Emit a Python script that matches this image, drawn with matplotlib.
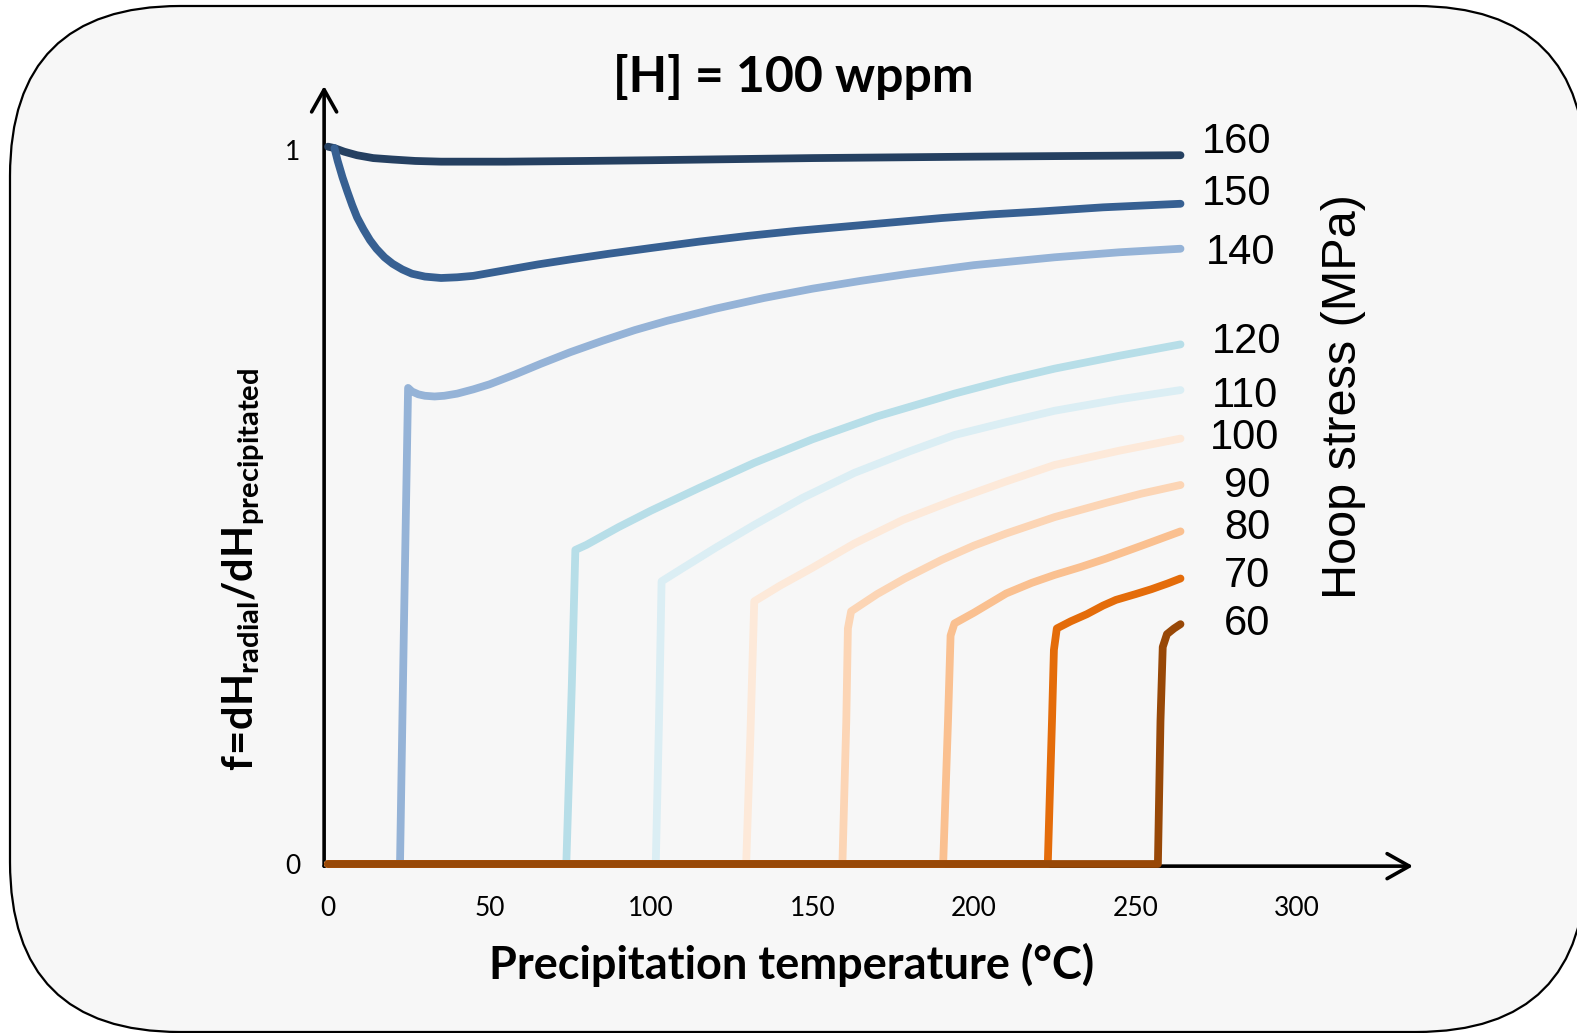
import numpy as np
import matplotlib
matplotlib.use("Agg")
import matplotlib.pyplot as plt
from matplotlib.patches import FancyBboxPatch
from matplotlib.transforms import IdentityTransform

# --- DATA ---
stress_labels = ["160", "150", "140", "120", "110", "100", "90", "80", "70", "60"]
colors = ["#254061", "#376092", "#95B3D7", "#B7DEE8", "#DBEEF4",
          "#FDE9D9", "#FCD5B5", "#FAC090", "#E46C0A", "#984807"]

x160 = [0, 2, 5, 9, 14, 20, 27, 35, 45, 55, 80, 100, 150, 200, 264]
y160 = [1.005, 1.003, 0.998, 0.993, 0.989, 0.987, 0.985, 0.984, 0.984, 0.984,
        0.985, 0.986, 0.989, 0.991, 0.993]

x150 = [2, 3, 4.5, 6, 7.5, 9, 11, 13, 15, 17.5, 20, 23, 26, 30, 35, 40, 45, 50,
        55, 65, 75, 87, 100, 115, 130, 145, 160, 175, 190, 205, 220, 240, 264]
y150 = [1.003, 0.985, 0.962, 0.942, 0.923, 0.906, 0.889, 0.874, 0.862, 0.850,
        0.841, 0.833, 0.827, 0.823, 0.821, 0.822, 0.824, 0.828, 0.832, 0.840,
        0.847, 0.855, 0.863, 0.872, 0.880, 0.887, 0.893, 0.899, 0.905, 0.910,
        0.914, 0.920, 0.925]

x140 = [0, 22.3, 23.5, 24.8, 26, 28, 30, 33, 36, 40, 45, 50, 58, 66, 75, 85, 95,
        105, 120, 135, 150, 165, 180, 200, 225, 245, 264]
y140 = [0, 0, 0.33, 0.667, 0.662, 0.658, 0.656, 0.655, 0.656, 0.659, 0.665,
        0.672, 0.686, 0.701, 0.717, 0.733, 0.748, 0.761, 0.778, 0.793, 0.806,
        0.817, 0.827, 0.839, 0.850, 0.857, 0.862]

x120 = [0, 73.8, 75.5, 76.6, 80, 90, 100, 115, 132, 150, 170, 194, 210, 225, 245, 264]
y120 = [0, 0, 0.25, 0.44, 0.447, 0.472, 0.495, 0.527, 0.562, 0.595, 0.627, 0.659,
        0.678, 0.694, 0.712, 0.728]

x110 = [0, 101.5, 102.5, 103.3, 110, 120, 132, 147, 163, 180, 194, 210, 225, 245, 264]
y110 = [0, 0, 0.2, 0.396, 0.415, 0.443, 0.475, 0.513, 0.548, 0.578, 0.601, 0.619,
        0.635, 0.651, 0.664]

x100 = [0, 129.5, 130.8, 132, 140, 150, 163, 178, 194, 210, 225, 245, 264]
y100 = [0, 0, 0.18, 0.368, 0.39, 0.415, 0.449, 0.482, 0.51, 0.536, 0.559, 0.579, 0.596]

x90 = [0, 159.3, 160.5, 161, 162, 170, 178.6, 190, 200, 210, 225, 241, 252, 264]
y90 = [0, 0, 0.2, 0.33, 0.354, 0.378, 0.40, 0.426, 0.446, 0.463, 0.486, 0.506,
       0.519, 0.531]

x80 = [0, 190.5, 192, 192.8, 194, 200, 210, 218, 225, 233, 241, 252, 264]
y80 = [0, 0, 0.2, 0.32, 0.337, 0.352, 0.379, 0.394, 0.405, 0.416, 0.428, 0.446, 0.466]

x70 = [0, 222.9, 224.2, 224.8, 225.7, 230, 235, 240, 244, 250, 255, 260, 264]
y70 = [0, 0, 0.2, 0.3, 0.33, 0.34, 0.35, 0.362, 0.37, 0.378, 0.385, 0.393, 0.40]

x60 = [0, 257, 257.8, 258.5, 259.8, 262, 264]
y60 = [0, 0, 0.2, 0.304, 0.322, 0.33, 0.336]

series_x = [x160, x150, x140, x120, x110, x100, x90, x80, x70, x60]
series_y = [y160, y150, y140, y120, y110, y100, y90, y80, y70, y60]

# label placement (data coords)
label_x = [270.6, 270.6, 271.8, 273.7, 273.7, 273.2, 277.4, 277.4, 277.4, 277.4]
label_y = [1.012, 0.938, 0.856, 0.732, 0.656, 0.597, 0.530, 0.471, 0.404, 0.336]

xticks = [0, 50, 100, 150, 200, 250, 300]
yticks = [0, 1]

plt.rcParams['mathtext.fontset'] = 'custom'
plt.rcParams['mathtext.rm'] = 'Lato'
plt.rcParams['mathtext.bf'] = 'Lato:bold'

W, H = 1577, 1033
fig = plt.figure(figsize=(W / 100, H / 100), dpi=100)
fig.patch.set_facecolor("white")

# rounded panel
box = FancyBboxPatch((10, 1), 1576, 1026,
                     boxstyle="round,pad=0,rounding_size=170",
                     fc="#f7f7f7", ec="black", lw=1.6,
                     transform=IdentityTransform(), zorder=0)
fig.add_artist(box)

ax = fig.add_axes([328 / W, 169 / H, 1085 / W, 778 / H])
ax.set_facecolor("none")
ax.set_xlim(0, 336)
ax.set_ylim(0, 1.09)
for s in ax.spines.values():
    s.set_visible(False)

# axes with arrow heads
arrow = dict(arrowstyle="->,head_length=0.8,head_width=0.45", lw=2.6,
             color="black", shrinkA=0, shrinkB=0, mutation_scale=20)
ax.annotate("", xy=(336, -0.003), xytext=(-1.2, -0.003), arrowprops=arrow,
            annotation_clip=False)
ax.annotate("", xy=(-1.2, 1.09), xytext=(-1.2, -0.003), arrowprops=arrow,
            annotation_clip=False)

for xs, ys, c in zip(series_x, series_y, colors):
    ax.plot(xs, ys, color=c, lw=5.6, solid_capstyle="round",
            solid_joinstyle="round", clip_on=False, zorder=3)

for lab, lx, ly in zip(stress_labels, label_x, label_y):
    ax.text(lx, ly, lab, fontsize=30, family="Liberation Sans",
            ha="left", va="center")

ax.set_xticks(xticks)
ax.set_yticks(yticks)
ax.set_xticklabels([str(v) for v in xticks], family="Lato", fontsize=19)
ax.set_yticklabels([str(v) for v in yticks], family="Lato", fontsize=19)
ax.tick_params(length=0)
ax.tick_params(axis="x", pad=23)
ax.tick_params(axis="y", pad=20)

fig.text(793 / W, 1 - 77 / H, "[H] = 100 wppm", family="Lato",
         fontweight="bold", fontsize=36, ha="center", va="center")
fig.text(792 / W, 1 - 965 / H, "Precipitation temperature (°C)", family="Lato",
         fontweight="bold", fontsize=32.5, ha="center", va="center")
fig.text(244 / W, 1 - 569 / H,
         r"$\mathbf{f\!=\!dH_{radial}/dH_{precipitated}}$",
         fontsize=30, rotation=90, ha="center", va="center")
fig.text(1343 / W, 1 - 397 / H, "Hoop stress (MPa)", family="Liberation Sans",
         fontsize=35, rotation=90, ha="center", va="center")

fig.savefig("out.png", dpi=100)
